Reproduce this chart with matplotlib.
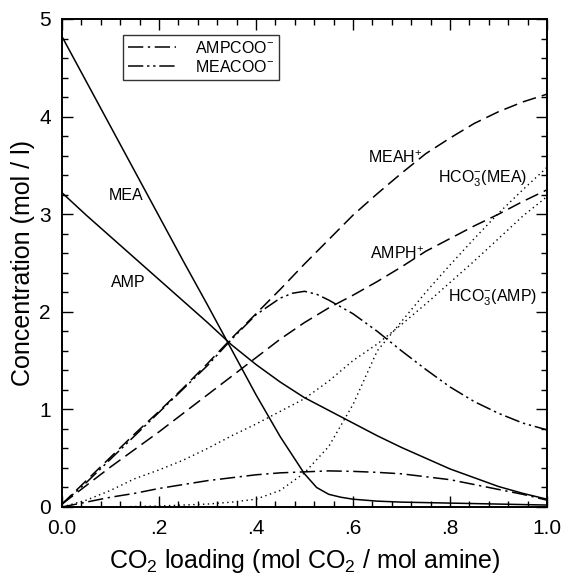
import matplotlib
matplotlib.use("Agg")
import matplotlib.pyplot as plt
from matplotlib.ticker import MultipleLocator, FixedLocator

plt.rcParams['font.family'] = ['Liberation Sans', 'DejaVu Sans']
plt.rcParams['mathtext.fontset'] = 'custom'
plt.rcParams['mathtext.rm'] = 'Liberation Sans'
plt.rcParams['mathtext.it'] = 'Liberation Sans:italic'
plt.rcParams['mathtext.bf'] = 'Liberation Sans:bold'

# CO2 loading grid (read points)
loading = [0.0, 0.05, 0.1, 0.15, 0.2, 0.25, 0.3, 0.35, 0.4, 0.45, 0.5,
           0.55, 0.6, 0.65, 0.7, 0.75, 0.8, 0.85, 0.9, 0.95, 1.0]

mea_x = [0.0, 0.05, 0.1, 0.15, 0.2, 0.25, 0.3, 0.35, 0.4, 0.45, 0.5, 0.525,
         0.55, 0.575, 0.6, 0.65, 0.7, 0.8, 0.9, 1.0]
mea = [4.82, 4.36, 3.90, 3.44, 2.98, 2.52, 2.07, 1.61, 1.15, 0.72, 0.34, 0.20,
       0.13, 0.10, 0.08, 0.06, 0.05, 0.04, 0.03, 0.02]
amp = [3.22, 2.99, 2.77, 2.55, 2.33, 2.11, 1.89, 1.66, 1.46, 1.28, 1.12,
       0.99, 0.86, 0.73, 0.61, 0.50, 0.39, 0.30, 0.21, 0.14, 0.08]
meah = [0.03, 0.27, 0.51, 0.75, 0.98, 1.22, 1.47, 1.73, 1.98, 2.23, 2.49,
        2.74, 2.99, 3.21, 3.42, 3.62, 3.78, 3.93, 4.05, 4.15, 4.23]
amph = [0.03, 0.22, 0.41, 0.59, 0.77, 0.96, 1.15, 1.34, 1.53, 1.72, 1.89,
        2.04, 2.17, 2.31, 2.46, 2.62, 2.75, 2.88, 3.00, 3.13, 3.25]
ampcoo = [0.0, 0.05, 0.10, 0.14, 0.19, 0.23, 0.27, 0.30, 0.33, 0.35, 0.36,
          0.37, 0.365, 0.355, 0.34, 0.31, 0.28, 0.23, 0.18, 0.13, 0.07]
hco3_amp = [0.0, 0.07, 0.17, 0.29, 0.38, 0.48, 0.60, 0.73, 0.85, 0.98, 1.11,
            1.29, 1.50, 1.67, 1.87, 2.08, 2.30, 2.52, 2.75, 2.98, 3.18]
hco3_mea = [0.0, 0.0, 0.0, 0.005, 0.01, 0.02, 0.03, 0.05, 0.08, 0.17, 0.35,
            0.62, 1.05, 1.60, 1.90, 2.20, 2.48, 2.75, 3.01, 3.25, 3.48]

meacoo_x = [0.0, 0.05, 0.1, 0.15, 0.2, 0.25, 0.3, 0.35, 0.4, 0.45, 0.475, 0.5,
            0.525, 0.55, 0.6, 0.65, 0.7, 0.75, 0.8, 0.85, 0.9, 0.95, 1.0]
meacoo = [0.03, 0.25, 0.49, 0.73, 0.97, 1.21, 1.45, 1.72, 1.97, 2.14, 2.19, 2.21,
          2.18, 2.12, 1.98, 1.80, 1.60, 1.41, 1.23, 1.08, 0.96, 0.86, 0.79]

x_ticks = [0.0, 0.2, 0.4, 0.6, 0.8, 1.0]
x_ticklabels = ["0.0", ".2", ".4", ".6", ".8", "1.0"]
y_ticks = [0, 1, 2, 3, 4, 5]
y_ticklabels = ["0", "1", "2", "3", "4", "5"]

fig = plt.figure(figsize=(5.67, 5.79), dpi=100)
ax = fig.add_axes([62/567, 1-507/579, 485/567, 488/579])

lw = 1.1
ax.plot(mea_x, mea, color='black', lw=lw, ls='-')
ax.plot(loading, amp, color='black', lw=lw, ls='-')
ax.plot(loading, meah, color='black', lw=lw, ls=(0, (9, 4)))
ax.plot(loading, amph, color='black', lw=lw, ls=(0, (9, 4)))
ax.plot(loading, ampcoo, color='black', lw=lw, ls=(0, (10, 3, 1.5, 3)), label='AMPCOO$^{\\mathregular{-}}$')
ax.plot(meacoo_x, meacoo, color='black', lw=lw, ls=(0, (10, 2.5, 1.5, 2.5, 1.5, 2.5)), label='MEACOO$^{\\mathregular{-}}$')
ax.plot(loading, hco3_amp, color='black', lw=1.0, ls=(0, (1, 2.5)))
ax.plot(loading, hco3_mea, color='black', lw=1.0, ls=(0, (1, 2.5)))

ax.set_xlim(0, 1.0)
ax.set_ylim(0, 5)
ax.xaxis.set_major_locator(FixedLocator(x_ticks))
ax.set_xticklabels(x_ticklabels)
ax.xaxis.set_minor_locator(MultipleLocator(0.04))
ax.yaxis.set_major_locator(FixedLocator(y_ticks))
ax.set_yticklabels(y_ticklabels)
ax.yaxis.set_minor_locator(MultipleLocator(0.2))
ax.tick_params(which='both', direction='in', top=True, right=True, labelsize=15, width=1.0)
ax.tick_params(which='major', length=8)
ax.tick_params(axis='x', which='major', pad=9)
ax.tick_params(axis='y', which='major', pad=8)
ax.tick_params(which='minor', length=4)
for s in ax.spines.values():
    s.set_linewidth(1.4)

ax.set_xlabel('CO$_\\mathregular{2}$ loading (mol CO$_\\mathregular{2}$ / mol amine)', fontsize=18, labelpad=6)
ax.set_ylabel('Concentration (mol / l)', fontsize=18, labelpad=3)

fs = 11.5
ax.text(0.132, 3.19, 'MEA', fontsize=fs, ha='center', va='center')
ax.text(0.136, 2.30, 'AMP', fontsize=fs, ha='center', va='center')
ax.text(0.63, 3.58, 'MEAH$^\\mathregular{+}$', fontsize=fs, ha='left', va='center')
ax.text(0.635, 2.60, 'AMPH$^\\mathregular{+}$', fontsize=fs, ha='left', va='center')
ax.text(0.775, 3.36, 'HCO$_\\mathregular{3}^\\mathregular{-}$(MEA)', fontsize=fs, ha='left', va='center')
ax.text(0.796, 2.14, 'HCO$_\\mathregular{3}^\\mathregular{-}$(AMP)', fontsize=fs, ha='left', va='center')

leg = ax.legend(loc='upper left', bbox_to_anchor=(0.126, 0.967), fontsize=fs,
                frameon=True, fancybox=False, edgecolor='black', handlelength=3.0,
                borderpad=0.3, labelspacing=0.2, handletextpad=1.2, borderaxespad=0)
leg.get_frame().set_linewidth(1.0)

fig.savefig('out.png', dpi=100)
